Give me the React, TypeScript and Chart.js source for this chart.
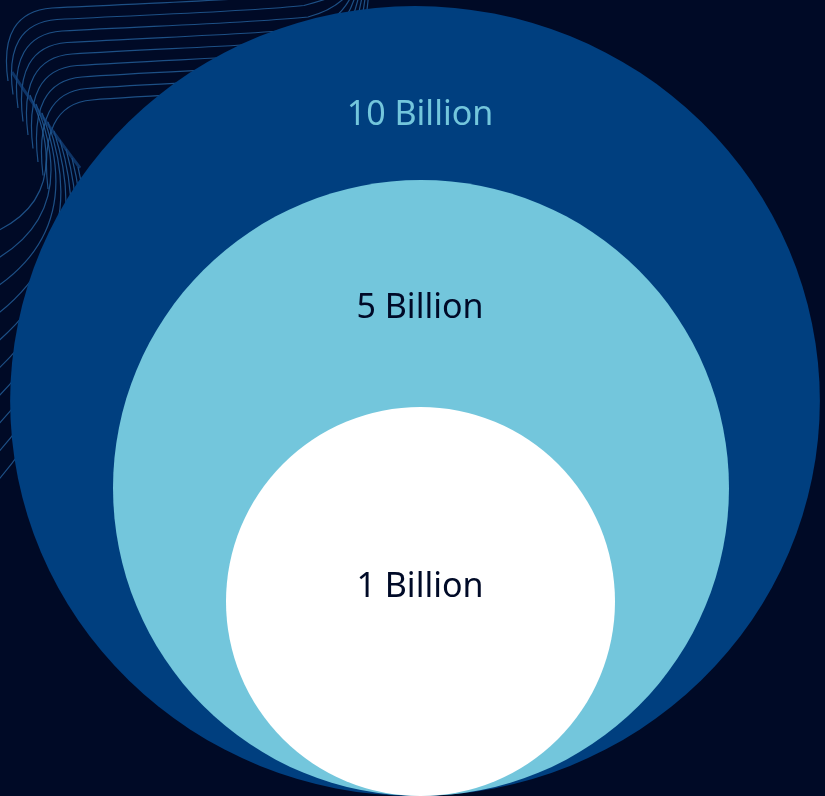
import React, { useEffect, useRef } from "react";
import { Chart, registerables } from "chart.js";

Chart.register(...registerables);

// data
const categories = ["10 Billion", "5 Billion", "1 Billion"];
const valuesBillion = [10, 5, 1];

// layout (pixels) – rings sit on a common bottom line
const ringRadius = [395, 308, 194.5];
const ringShiftX = [-5, 1, 0.5];
const ringStretchX = [1.025, 1, 1];
const labelDrop = [119, 138, 190];

const ringColors = ["#003f7f", "#73c6dc", "#ffffff"];
const labelColors = ["#73c6dc", "#000a27", "#000a27"];
const BG = "#000a26";

const W = 825;
const H = 796;

const drawContours = (ctx: CanvasRenderingContext2D) => {
  ctx.save();
  ctx.lineWidth = 1.2;
  ctx.strokeStyle = "rgba(36, 98, 158, 0.8)";
  // upper family, turning from vertical to horizontal
  for (let i = 0; i < 9; i++) {
    const yTop = 6 + i * 11.5;
    const xLeft = 2 + i * 5;
    ctx.beginPath();
    ctx.moveTo(xLeft + 6, yTop + 75 + i * 2);
    ctx.quadraticCurveTo(xLeft - 4, yTop + 6, xLeft + 50, yTop + 2);
    ctx.bezierCurveTo(150, yTop - 3, 250, yTop - 6, 300 + i * 4, yTop - 12);
    ctx.quadraticCurveTo(330 + i * 4, yTop - 20, 345 + i * 3, -10);
    ctx.stroke();
  }
  // lower family, sweeping to the left edge
  for (let j = 0; j < 10; j++) {
    ctx.beginPath();
    ctx.moveTo(30 + j * 6, 95 + j * 9);
    ctx.quadraticCurveTo(75 + j * 5, 195 + j * 16, -5, 232 + j * 28);
    ctx.stroke();
  }
  // ridge
  ctx.lineWidth = 3;
  ctx.strokeStyle = "rgba(20, 70, 130, 0.7)";
  ctx.beginPath();
  ctx.moveTo(12, 72);
  ctx.quadraticCurveTo(40, 115, 80, 168);
  ctx.stroke();
  ctx.restore();
};

const backgroundPlugin = {
  id: "bg",
  beforeDraw: (chart: Chart) => {
    const { ctx } = chart;
    ctx.save();
    ctx.fillStyle = BG;
    ctx.fillRect(0, 0, chart.width, chart.height);
    ctx.restore();
    drawContours(ctx);
  },
};

const stretchPlugin = {
  id: "stretch",
  beforeDatasetDraw: (chart: Chart, args: any) => {
    const sx = ringStretchX[args.index] ?? 1;
    const el: any = chart.getDatasetMeta(args.index).data[0];
    chart.ctx.save();
    if (sx !== 1 && el) {
      chart.ctx.translate(el.x, 0);
      chart.ctx.scale(sx, 1);
      chart.ctx.translate(-el.x, 0);
    }
  },
  afterDatasetDraw: (chart: Chart) => {
    chart.ctx.restore();
  },
};

const labelPlugin = {
  id: "ringLabels",
  afterDatasetsDraw: (chart: Chart) => {
    const { ctx } = chart;
    ctx.save();
    ctx.font = '34px "Noto Sans", sans-serif';
    ctx.textAlign = "center";
    ctx.textBaseline = "alphabetic";
    categories.forEach((label, i) => {
      const el: any = chart.getDatasetMeta(i).data[0];
      if (!el) return;
      const top = el.y - el.options.radius;
      ctx.fillStyle = labelColors[i];
      ctx.fillText(label, 420, top + labelDrop[i]);
    });
    ctx.restore();
  },
};

const NestedRings = () => {
  const canvasRef = useRef<HTMLCanvasElement>(null);
  const chartRef = useRef<Chart | null>(null);

  useEffect(() => {
    document.body.style.margin = "0";
    document.body.style.background = BG;
    const ctx = canvasRef.current?.getContext("2d");
    if (!ctx) return;
    if (chartRef.current) chartRef.current.destroy();

    chartRef.current = new Chart(ctx, {
      type: "bubble",
      data: {
        datasets: categories.map((label, i) => ({
          label,
          data: [{ x: ringShiftX[i], y: ringRadius[i], r: ringRadius[i], v: valuesBillion[i] }],
          backgroundColor: ringColors[i],
          borderWidth: 0,
          hoverBorderWidth: 0,
          order: categories.length - i,
          clip: false as any,
        })),
      },
      options: {
        responsive: false,
        animation: false,
        events: [],
        layout: { padding: 0, autoPadding: false },
        plugins: {
          legend: { display: false },
          tooltip: { enabled: false },
        },
        scales: {
          x: { type: "linear", display: false, min: -420, max: W - 420 },
          y: { type: "linear", display: false, min: 0, max: H },
        },
      },
      plugins: [backgroundPlugin, stretchPlugin, labelPlugin],
    });

    return () => {
      if (chartRef.current) {
        chartRef.current.destroy();
        chartRef.current = null;
      }
    };
  }, []);

  return <canvas ref={canvasRef} width={W} height={H} style={{ display: "block" }}></canvas>;
};

export default function App() {
  return <NestedRings />;
}
